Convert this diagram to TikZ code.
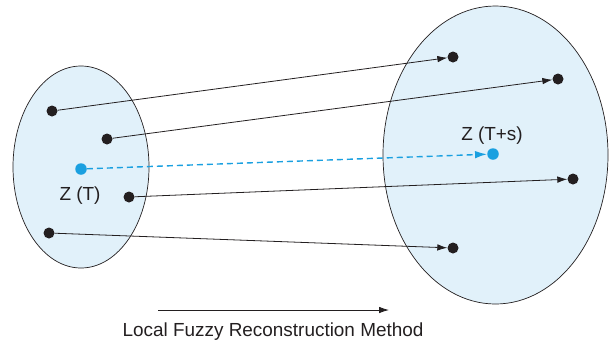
\documentclass[tikz,border=0pt]{standalone}
\usepackage{fontspec}
\setmainfont{Liberation Sans}
\usetikzlibrary{arrows.meta}
\definecolor{setfill}{HTML}{E1F1FA}
\definecolor{ink}{HTML}{231F20}
\definecolor{zblue}{HTML}{1AA0E0}
\tikzset{
  setshape/.style={draw=ink, line width=0.7bp, fill=setfill},
  dot/.style={circle, fill=ink, inner sep=0pt, minimum size=11bp},
  bluedot/.style={circle, fill=zblue, inner sep=0pt, minimum size=11.5bp},
  mapline/.style={draw=ink, line width=0.8bp, -{Latex[length=10bp,width=6.5bp]}},
  trajline/.style={draw=zblue, line width=1.4bp, dash pattern=on 6bp off 4bp,
    -{Latex[length=12bp,width=7.5bp]}},
  lbl/.style={font=\fontsize{19}{22}\selectfont, text=ink, inner sep=0pt}
}
\begin{document}
\begin{tikzpicture}[x=1bp,y=-1bp]
  \useasboundingbox (0,0) rectangle (612,347);
  % the two state sets
  \draw[setshape] (81,167) ellipse [x radius=68, y radius=101];
  \draw[setshape] (495.5,155) ellipse [x radius=112.5, y radius=149];
  % points at time T
  \node[dot] (p1) at (52,111) {};
  \node[dot] (p2) at (107,139) {};
  \node[bluedot] (z0) at (81,169) {};
  \node[dot] (p3) at (129,197) {};
  \node[dot] (p4) at (49,233) {};
  % points at time T+s
  \node[dot] (q1) at (453,57) {};
  \node[dot] (q2) at (558,79) {};
  \node[bluedot] (z1) at (493,154) {};
  \node[dot] (q3) at (573,179) {};
  \node[dot] (q4) at (453,248) {};
  % labels
  \node[lbl] (lz0) at (80,196) {Z (T)};
  \node[lbl] (lz1) at (492,136) {Z (T+s)};
  % mappings
  \draw[mapline] (p1) -- (q1);
  \draw[mapline] (p2) -- (q2);
  \draw[mapline] (p3) -- (q3);
  \draw[mapline] (p4) -- (q4);
  \draw[trajline] (z0) -- (z1);
  % method arrow and caption
  \coordinate (m0) at (158,310);
  \coordinate (m1) at (389,310);
  \draw[mapline] (m0) -- (m1);
  \node[lbl] (cap) at (273,332) {Local Fuzzy Reconstruction Method};
\end{tikzpicture}
\end{document}
